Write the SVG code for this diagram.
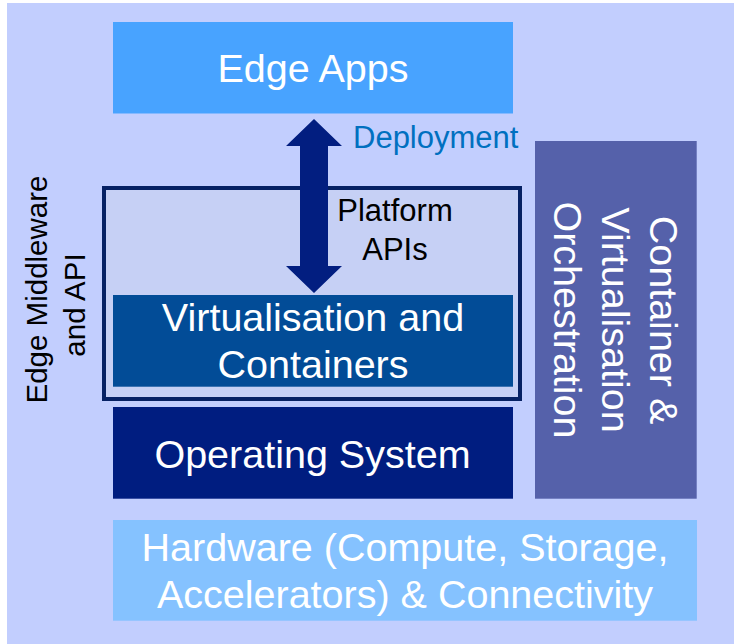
<svg xmlns="http://www.w3.org/2000/svg" width="734" height="644" viewBox="0 0 734 644">
  <style>
    text { font-family: "Liberation Sans", Arial, sans-serif; }
    .big { font-size: 39.5px; fill: #ffffff; text-anchor: middle; }
    .dark { fill: #000000; }
  </style>
  <rect x="0" y="0" width="734" height="644" fill="#ffffff"/>
  <rect x="7" y="3" width="727" height="641" fill="#C2CEFE"/>

  <g id="edge-apps">
    <rect x="113" y="22" width="400" height="91.5" fill="#48A3FF"/>
    <text class="big" x="313" y="82">Edge Apps</text>
  </g>

  <g id="edge-middleware">
    <rect x="104" y="188" width="416" height="211" fill="#C6D0F5" stroke="#062164" stroke-width="4"/>
    <text class="dark" font-size="29.5" text-anchor="middle" transform="translate(46.5,289.5) rotate(-90)">Edge Middleware</text>
    <text class="dark" font-size="29.5" text-anchor="middle" transform="translate(85,305) rotate(-90)">and API</text>
  </g>

  <g id="virtualisation">
    <rect x="113" y="295" width="400" height="91.7" fill="#024C97"/>
    <text class="big" x="313" y="330.7">Virtualisation and</text>
    <text class="big" x="313" y="378">Containers</text>
  </g>

  <g id="operating-system">
    <rect x="113" y="407" width="400" height="91.7" fill="#001D80"/>
    <text class="big" x="312.5" y="468.3">Operating System</text>
  </g>

  <g id="orchestration">
    <rect x="535" y="141" width="161.7" height="357.7" fill="#5561AA"/>
    <text class="big" transform="translate(649.5,320) rotate(90)">Container &amp;</text>
    <text class="big" transform="translate(601.5,320) rotate(90)">Virtualisation</text>
    <text class="big" transform="translate(553.5,320) rotate(90)">Orchestration</text>
  </g>

  <g id="hardware">
    <rect x="113" y="520" width="584" height="100.7" fill="#85C2FF"/>
    <text class="big" x="405" y="561">Hardware (Compute, Storage,</text>
    <text class="big" x="405" y="608.3">Accelerators) &amp; Connectivity</text>
  </g>

  <g id="connectors">
    <polygon points="314,119 342,146 328,146 328,266 342,266 314,293 286,266 300,266 300,146 286,146" fill="#021E80"/>
    <text x="353" y="147.7" font-size="31" fill="#0070C0">Deployment</text>
    <text class="dark" x="395" y="221" font-size="31" text-anchor="middle">Platform</text>
    <text class="dark" x="395" y="260" font-size="31" text-anchor="middle">APIs</text>
  </g>
</svg>
